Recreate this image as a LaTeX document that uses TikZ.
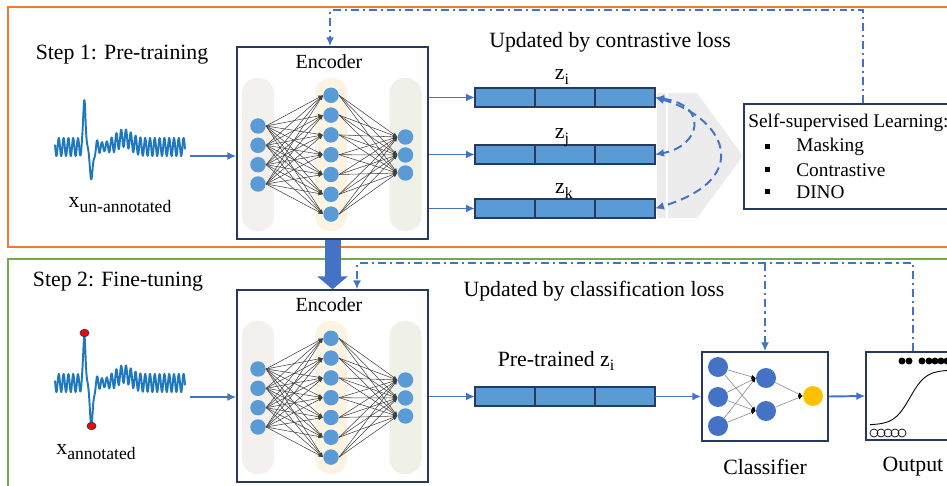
\documentclass[tikz,border=0pt]{standalone}
\usepackage{fontspec}
\setmainfont{Liberation Serif}
\usetikzlibrary{arrows.meta,positioning,calc}
\definecolor{frameOrange}{RGB}{237,125,49}
\definecolor{frameGreen}{RGB}{112,173,71}
\definecolor{flowBlue}{RGB}{68,114,196}
\definecolor{cellBlue}{RGB}{91,155,213}
\definecolor{boxNavy}{RGB}{38,58,96}
\definecolor{ecgBlue}{RGB}{31,119,190}
\definecolor{pillGrey}{RGB}{243,240,237}
\definecolor{pillCream}{RGB}{253,243,226}
\definecolor{pillSage}{RGB}{239,241,232}
\definecolor{outYellow}{RGB}{255,192,0}
\definecolor{wedgeGrey}{RGB}{236,236,236}

\newcommand{\lowsub}[2][10]{\raisebox{-0.45ex}{\fontsize{#1}{#1}\selectfont #2}}

\tikzset{
  txt/.style={font=\fontsize{12.4}{14}\selectfont, inner sep=0},
  enctxt/.style={font=\fontsize{11.4}{13}\selectfont, inner sep=0},
  sstxt/.style={font=\fontsize{11}{13}\selectfont, inner sep=0, anchor=west},
  encbox/.style={draw=boxNavy, fill=white, line width=0.8pt, minimum width=3.82cm, minimum height=3.84cm, inner sep=0},
  pill/.style={rounded corners=0.3cm, minimum width=0.64cm, minimum height=3.06cm, inner sep=0},
  neuron/.style={circle, fill=cellBlue, minimum size=0.31cm, inner sep=0},
  cnode/.style={circle, fill=flowBlue, minimum size=0.4cm, inner sep=0},
  syn/.style={black!75, line width=0.3pt, -{Latex[length=2.5pt,width=2.2pt]}},
  thinsyn/.style={black!45, line width=0.35pt, -{Latex[black,length=2.4pt,width=2.2pt]}},
  cell/.style={draw=boxNavy, fill=cellBlue, line width=0.7pt, minimum width=1.2cm, minimum height=0.38cm, inner sep=0, outer sep=0},
  flow/.style={flowBlue, line width=1.1pt, -{Latex[length=0.18cm,width=0.16cm]}},
  bigflow/.style={flowBlue, line width=0.32cm, -{Triangle[length=0.26cm,width=0.6cm]}},
  fb/.style={flowBlue, line width=1.1pt, dash pattern=on 4.5pt off 2.3pt on 1.2pt off 2.3pt, -{Latex[length=0.18cm,width=0.16cm]}},
  simarrow/.style={flowBlue, line width=1.1pt, dash pattern=on 5pt off 3pt, {Latex[length=0.18cm,width=0.16cm]}-{Latex[length=0.18cm,width=0.16cm]}},
  sqbox/.style={draw=boxNavy, fill=white, line width=0.8pt, inner sep=0},
  ecgline/.style={ecgBlue, line width=1.1pt, line join=round},
}

% encoder block: box, layers, connections
\newcommand{\encodernet}{%
  \node[encbox] (enc) at (332.5,143) {};
  \node[enctxt] (enctitle) at (329,62) {Encoder};
  \node[pill, fill=pillGrey] (pa) at (258,154.5) {};
  \node[pill, fill=pillCream] (pb) at (331,154.5) {};
  \node[pill, fill=pillSage] (pc) at (405.5,154.5) {};
  \foreach \i/\y in {1/126,2/145.3,3/164.7,4/184}
    \node[neuron] (a\i) at (258,\y) {};
  \foreach \i in {1,...,7}
    \node[neuron] (b\i) at (331,{75.5+19.8*\i}) {};
  \foreach \i/\y in {1/137,2/155,3/173}
    \node[neuron] (c\i) at (405.5,\y) {};
  \foreach \i in {1,...,4}
    \foreach \j in {1,...,7}
      \draw[syn] (a\i.east) -- (b\j.west);
  \foreach \i in {1,...,7}
    \foreach \j in {1,2,3}
      \draw[syn] (b\i.east) -- (c\j.west);
}

% ecg trace: baseline, depth of the S wave
\newcommand{\ecgtrace}[2]{%
  \draw[ecgline] plot[domain=55:185, samples=500]
    (\x, {#1 - ( 9*sin(75*\x)*(1-0.9*exp(max(-9,-(((\x-89)/5)^2)))-0.5*exp(max(-9,-(((\x-104)/7)^2))))
      + 50*exp(max(-9,-(((\x-84.5)/1.5)^2)))
      - #2*exp(max(-9,-(((\x-91.5)/2.2)^2)))
      + 9*exp(max(-9,-(((\x-124)/10)^2))) )});
}

\begin{document}
\begin{tikzpicture}[x=0.02cm, y=-0.02cm]
\useasboundingbox (0,0) rectangle (947,486);
\clip (0,0) rectangle (947,486);

% frames
\draw[frameOrange, line width=0.9pt] (8,7) rectangle (980,247);
\draw[frameGreen, line width=0.9pt] (8,259) rectangle (980,520);

%% Step 1
\node[txt] (step1) at (122,55) {Step 1: Pre-training};
\ecgtrace{147}{33}
\node[txt] (xun) at (120,205) {x\lowsub{un-annotated}};
\encodernet
\coordinate (sigA) at (190,156);
\draw[flow] (sigA) -- (sigA -| enc.west);

\node[txt] (cltitle) at (610,42) {Updated by contrastive loss};
\fill[wedgeGrey] (657,93) -- (697,93) -- (743,156) -- (697,218) -- (657,218) -- cycle;
\draw[white, line width=1pt] (667,93) -- (667,218);
\foreach \v/\y in {zi/97.5,zj/154.5,zk/208.5}{
  \node[cell] (\v1) at (505,\y) {};
  \node[cell, right=0pt of \v1] (\v2) {};
  \node[cell, right=0pt of \v2] (\v3) {};
  \draw[flow] (enc.east |- \v1.west) -- (\v1.west);
}
\node[txt, anchor=base] (lzi) at ($(zi2.north)+(-3,-8)$) {z\lowsub[9]{i}};
\node[txt, anchor=base] (lzj) at ($(zj2.north)+(-3,-6)$) {z\lowsub[9]{j}};
\node[txt, anchor=base] (lzk) at ($(zk2.north)+(-1,-5)$) {z\lowsub[9]{k}};
\draw[simarrow] (zi3.east) .. controls +(55,8) and +(45,-8) .. (zj3.east);
\draw[simarrow] (zi3.east) .. controls +(70,20) and +(100,-30) .. (zk3.east);

\node[sqbox, minimum width=4.76cm, minimum height=2.1cm] (ssl) at (863,156.5) {};
\node[sstxt] (ssltitle) at (748,123) {Self-supervised Learning:};
\foreach \t/\y [count=\k] in {Masking/147,Contrastive/170,DINO/192}{
  \node[fill=black, minimum size=0.1cm, inner sep=0] (sb\k) at (767,\y) {};
  \node[sstxt] (si\k) at (796,\y) {\t};
}
\draw[fb] (ssl.north) -- ++(0,-93) -| ([xshift=-0.05cm]enc.north);

%% Step 2
\node[txt] (step2) at (118,282) {Step 2: Fine-tuning};
\ecgtrace{383}{43}
\draw[fill=red, draw=boxNavy, line width=0.4pt] (84.5,333) ellipse (0.09cm and 0.075cm);
\draw[fill=red, draw=boxNavy, line width=0.4pt] (91.5,426) ellipse (0.09cm and 0.075cm);
\node[txt] (xan) at (96,452) {x\lowsub{annotated}};
\begin{scope}[shift={(0,243)}, name prefix=ft-]
  \encodernet
\end{scope}
\draw[bigflow] (enc.south) -- (ft-enc.north);
\coordinate (sigB) at (190,397);
\draw[flow] (sigB) -- (sigB -| ft-enc.west);

\node[txt] (cftitle) at (594,291) {Updated by classification loss};
\node[txt] (lzp) at (556,361) {Pre-trained z\lowsub[9]{i}};
\node[cell] (zp1) at (505,396.5) {};
\node[cell, right=0pt of zp1] (zp2) {};
\node[cell, right=0pt of zp2] (zp3) {};
\draw[flow] (ft-enc.east |- zp1.west) -- (zp1.west);

% classifier
\node[sqbox, minimum width=2.52cm, minimum height=1.78cm] (cls) at (765,396.5) {};
\node[cnode] (k1) at (718,367) {};
\node[cnode] (k2) at (718,397) {};
\node[cnode] (k3) at (718,426) {};
\node[cnode] (h1) at (766,378) {};
\node[cnode] (h2) at (766,411) {};
\node[cnode, fill=outYellow] (cout) at (813,396) {};
\foreach \i in {1,2,3}
  \foreach \j in {1,2}
    \draw[thinsyn] (k\i) -- (h\j.west);
\foreach \j in {1,2}
  \draw[thinsyn] (h\j) -- (cout.west);
\node[txt] (clslbl) at (765,467) {Classifier};
\draw[flow] (zp3.east) -- (cls.west);

% output
\node[sqbox, minimum width=1.88cm, minimum height=1.76cm] (outbox) at (913,396) {};
\draw[line width=0.5pt] plot[domain=870:960, samples=80] (\x, {425-55/(1+exp(-(\x-910)/8))});
\foreach \x in {902,909,922,929,935,941,947}
  \fill (\x,361) circle (0.07cm);
\foreach \x in {874,881,888,895,902}
  \draw[line width=0.4pt] (\x,433) circle (0.08cm);
\node[txt] (outlbl) at (913,467) {Output};
\draw[flow] (cls.east) -- (outbox.west);

\draw[fb] (outbox.north) -- ++(0,-88) coordinate (fbtop) -| ([xshift=0.49cm]ft-enc.north);
\draw[fb] (cls.north |- fbtop) -- (cls.north);
\end{tikzpicture}
\end{document}
